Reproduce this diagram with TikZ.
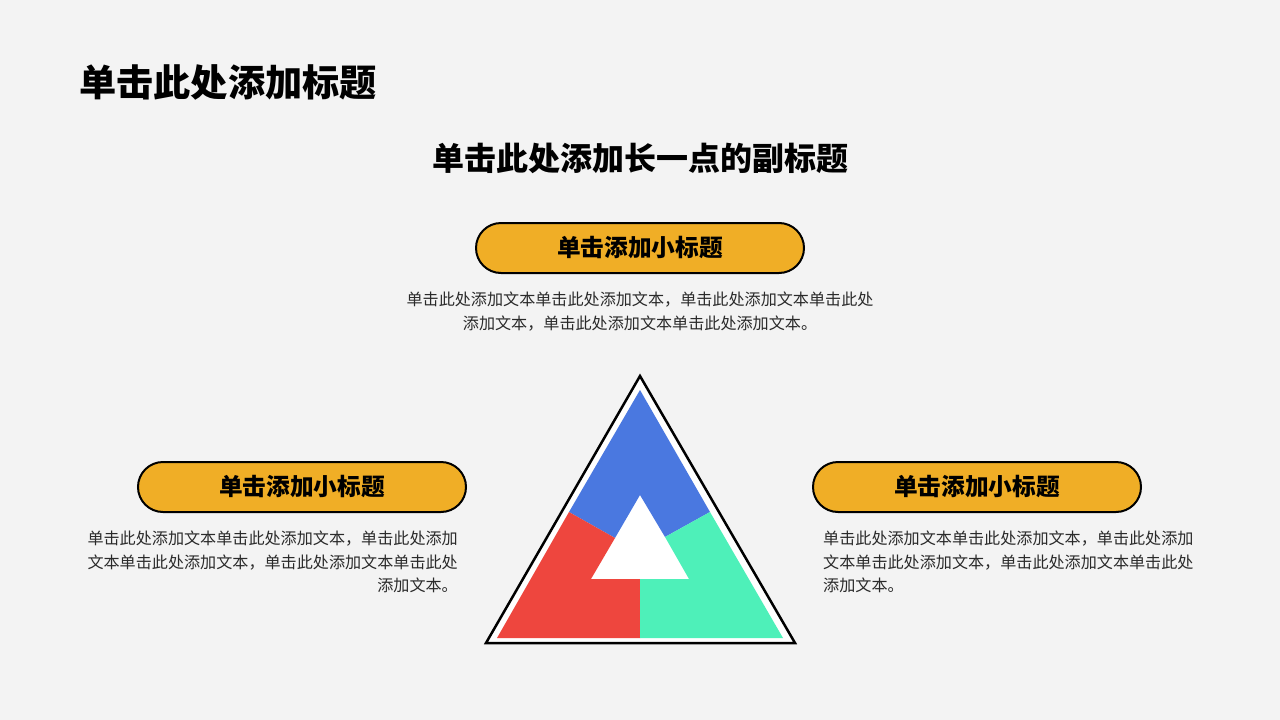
\documentclass[tikz,border=0pt]{standalone}
\usepackage{fontspec}
\setmainfont{Noto Sans CJK SC}
\newfontfamily\cjk{Noto Sans CJK SC}
\definecolor{bgpaper}{HTML}{F3F3F3}
\definecolor{pillyellow}{HTML}{F0AE26}
\definecolor{triblue}{HTML}{4A78E0}
\definecolor{trired}{HTML}{EE463E}
\definecolor{trigreen}{HTML}{4EF0B9}
\definecolor{bodytext}{HTML}{2A2A2A}
\tikzset{
  pill/.style={draw=black, line width=2pt, fill=pillyellow, rounded corners=25pt,
    minimum width=328pt, minimum height=50pt, inner sep=0pt,
    font=\cjk\bfseries\fontsize{23.7}{28}\selectfont, text=black},
  bodytxt/.style={inner sep=0pt, font=\cjk\fontsize{16.1}{23.5}\selectfont, text=bodytext},
}
\begin{document}
\begin{tikzpicture}[x=1pt,y=-1pt]
\fill[bgpaper] (0,0) rectangle (1280,720);
\useasboundingbox (0,0) rectangle (1280,720);

\node[anchor=west, inner sep=0pt, font=\cjk\bfseries\fontsize{37.2}{40}\selectfont] (title) at (79,82) {单击此处添加标题};
\node[inner sep=0pt, font=\cjk\bfseries\fontsize{32}{36}\selectfont] (subtitle) at (640,158) {单击此处添加长一点的副标题};

\node[pill] (ptop) at (640,248) {单击添加小标题};
\node[pill] (pleft) at (302,487) {单击添加小标题};
\node[pill] (pright) at (977,487) {单击添加小标题};

\node[bodytxt, align=center, anchor=north] (ttop) at (640,292) {单击此处添加文本单击此处添加文本，单击此处添加文本单击此处\\添加文本，单击此处添加文本单击此处添加文本。};
\node[bodytxt, align=right, anchor=north east] (tleft) at (458,531) {单击此处添加文本单击此处添加文本，单击此处添加\\文本单击此处添加文本，单击此处添加文本单击此处\\添加文本。};
\node[bodytxt, align=left, anchor=north west] (tright) at (823,531) {单击此处添加文本单击此处添加文本，单击此处添加\\文本单击此处添加文本，单击此处添加文本单击此处\\添加文本。};

% triangle
\fill[white] (640,376) -- (795,643) -- (486,643) -- cycle;
\fill[triblue] (640,390) -- (710,512) -- (665,537) -- (640,495) -- (615,538) -- (569,512) -- cycle;
\fill[trired] (569,512) -- (615,538) -- (591,579) -- (640,579) -- (640,638) -- (497,638) -- cycle;
\fill[trigreen] (710,512) -- (783,638) -- (640,638) -- (640,579) -- (689,579) -- (665,537) -- cycle;
\draw[black, line width=2.5pt, line join=miter] (640,376) -- (795,643) -- (486,643) -- cycle;
\end{tikzpicture}
\end{document}
